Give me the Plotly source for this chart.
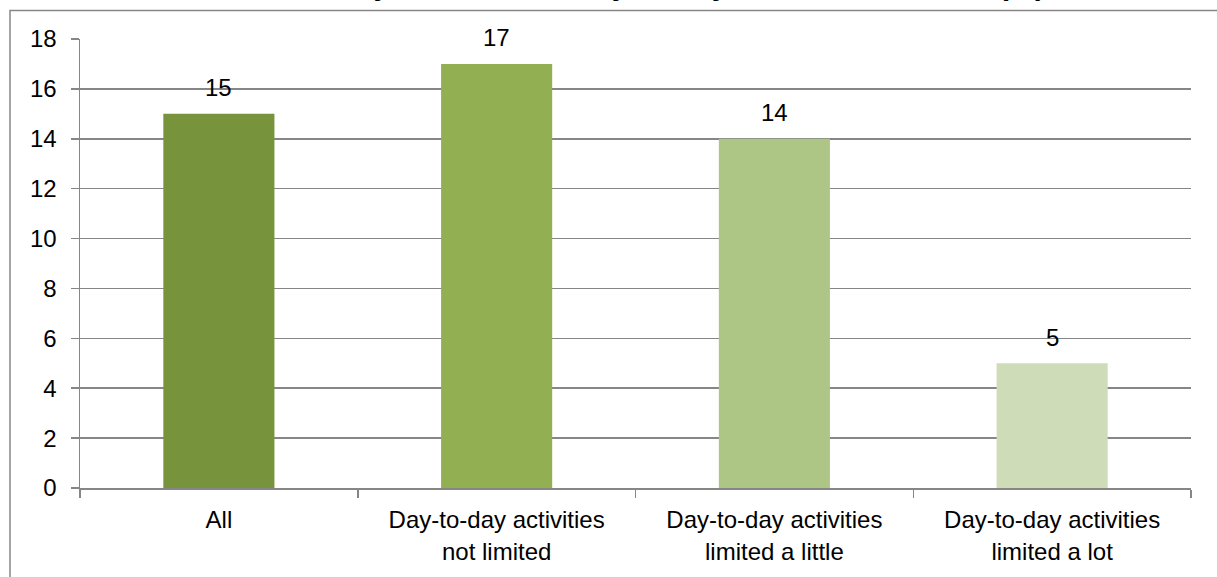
import plotly.graph_objects as go

categories = ["All", "Day-to-day activities<br>not limited",
              "Day-to-day activities<br>limited a little",
              "Day-to-day activities<br>limited a lot"]
values = [15, 17, 14, 5]
bar_colors = ["#77933C", "#92B051", "#AEC685", "#CFDCB8"]
y_ticks = [0, 2, 4, 6, 8, 10, 12, 14, 16, 18]
title_text = "Museum attendance, by limitation of day-to-day activities, 2013/14 (%)"

FONT = "Liberation Sans, Arial, sans-serif"
GRAY = "#868686"

fig = go.Figure()
fig.add_trace(go.Bar(
    x=categories, y=values, width=0.4,
    marker=dict(color=bar_colors, line=dict(width=0)),
    hoverinfo="skip",
))

for c, v in zip(categories, values):
    fig.add_annotation(x=c, y=v, text=str(v), showarrow=False,
                       xref="x", yref="y", yanchor="middle", yshift=26,
                       font=dict(family=FONT, size=24, color="#000000"))

# chart-area border (extends beyond the right/bottom edge of the picture)
fig.add_shape(type="rect", xref="paper", yref="paper",
              x0=(10 - 80) / 1111, x1=1.2, y0=-0.3, y1=(495 - 10) / 456,
              line=dict(color=GRAY, width=1.5), fillcolor="rgba(0,0,0,0)", layer="below")

# title, mostly cut off at the top of the picture
fig.add_annotation(x=(48 - 80) / 1111, y=1, xref="paper", yref="paper",
                   text="<b>" + title_text + "</b>", showarrow=False,
                   xanchor="left", yanchor="middle", yshift=55,
                   font=dict(family=FONT, size=30, color="#000000"))

fig.update_layout(
    width=1217, height=577,
    margin=dict(l=80, r=26, t=39, b=78, pad=0),
    paper_bgcolor="white", plot_bgcolor="white",
    showlegend=False,
    font=dict(family=FONT, size=24, color="#000000"),
)
fig.update_yaxes(range=[0, 18], tickvals=y_ticks, showgrid=True, gridcolor=GRAY, gridwidth=1.5,
                 showline=True, linecolor=GRAY, linewidth=1.5, ticks="outside", ticklen=8,
                 tickcolor=GRAY, tickwidth=1.5, ticklabelstandoff=9,
                 tickfont=dict(family=FONT, size=24, color="#000000"),
                 zeroline=False, fixedrange=True)
fig.update_xaxes(showline=True, linecolor=GRAY, linewidth=1.5, ticks="outside", ticklen=8,
                 tickcolor=GRAY, tickwidth=1.5, tickson="boundaries", showgrid=False,
                 ticklabelstandoff=10,
                 tickfont=dict(family=FONT, size=24, color="#000000"), fixedrange=True)

fig.write_html("out.html", config={"displayModeBar": False, "staticPlot": True},
               post_script="document.body.style.margin='0px';document.body.style.overflow='hidden';")
